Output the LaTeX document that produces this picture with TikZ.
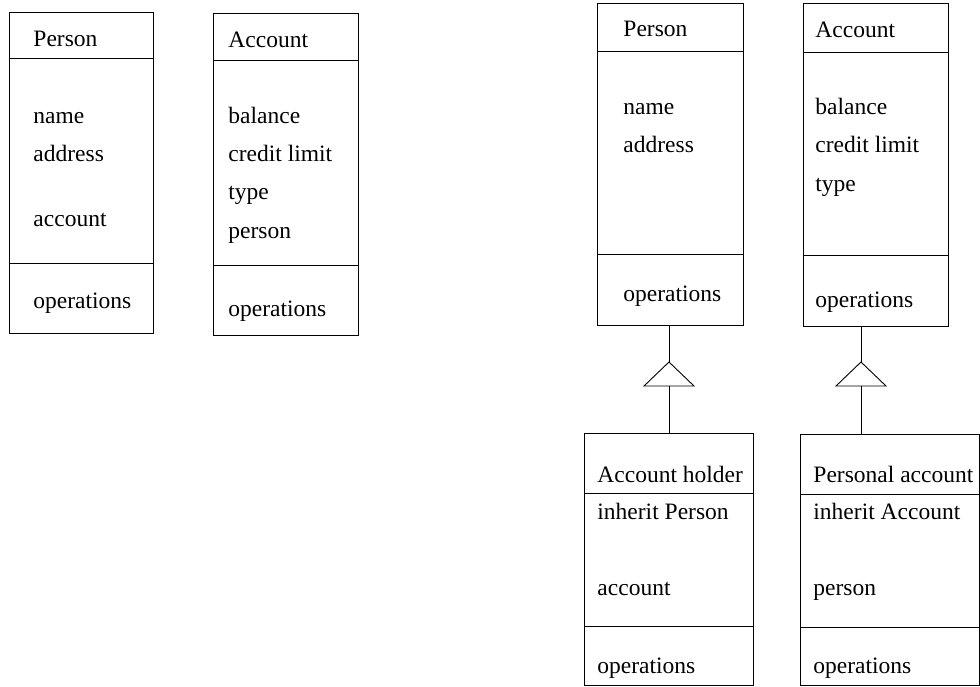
\documentclass[tikz,border=0pt]{standalone}
\usepackage{fontspec}
\setmainfont{Liberation Serif}
\begin{document}
\begin{tikzpicture}[x=1pt,y=-1pt,
  line width=0.9pt,
  classbox/.style={draw, rectangle, inner sep=0pt, anchor=north west},
  label/.style={anchor=base west, inner sep=0pt, font=\fontsize{23.5}{28}\selectfont},
  link/.style={draw, line width=0.9pt}]
\useasboundingbox[fill=white] (0,0) rectangle (980,687);

% ---------- plain classes ----------
\node[classbox, minimum width=144pt, minimum height=321pt] (pa) at (9,12) {};
\draw (9,58) -- (153,58);
\draw (9,263) -- (153,263);
\node[label] (pa-t) at (33,47) {Person};
\node[label] (pa-1) at (33,124) {name};
\node[label] (pa-2) at (33,162) {address};
\node[label] (pa-3) at (33,226) {account};
\node[label] (pa-o) at (33,308) {operations};

\node[classbox, minimum width=145pt, minimum height=322pt] (aa) at (213,13) {};
\draw (213,60) -- (358,60);
\draw (213,265) -- (358,265);
\node[label] (aa-t) at (228,48) {Account};
\node[label] (aa-1) at (228,124) {balance};
\node[label] (aa-2) at (228,162) {credit limit};
\node[label] (aa-3) at (228,200) {type};
\node[label] (aa-4) at (228,239) {person};
\node[label] (aa-o) at (228,316) {operations};

% ---------- base classes ----------
\node[classbox, minimum width=146pt, minimum height=322pt] (pb) at (597,3) {};
\draw (597,51) -- (743,51);
\draw (597,254) -- (743,254);
\node[label] (pb-t) at (623,37) {Person};
\node[label] (pb-1) at (623,115) {name};
\node[label] (pb-2) at (623,153) {address};
\node[label] (pb-o) at (623,301) {operations};

\node[classbox, minimum width=145pt, minimum height=323pt] (ab) at (803,3) {};
\draw (803,52) -- (948,52);
\draw (803,255) -- (948,255);
\node[label] (ab-t) at (815,38) {Account};
\node[label] (ab-1) at (815,115) {balance};
\node[label] (ab-2) at (815,153) {credit limit};
\node[label] (ab-3) at (815,192) {type};
\node[label] (ab-o) at (815,307) {operations};

% ---------- derived classes ----------
\node[classbox, minimum width=169pt, minimum height=252pt] (ah) at (584,433) {};
\draw (584,493) -- (753,493);
\draw (584,626) -- (753,626);
\node[label] (ah-t) at (597,482) {Account holder};
\node[label] (ah-1) at (597,519) {inherit Person};
\node[label] (ah-2) at (597,595) {account};
\node[label] (ah-o) at (597,673) {operations};

\node[classbox, minimum width=179pt, minimum height=251pt] (pc) at (800,434) {};
\draw (800,494) -- (979,494);
\draw (800,627) -- (979,627);
\node[label] (pc-t) at (813,482) {Personal account};
\node[label] (pc-1) at (813,519) {inherit Account};
\node[label] (pc-2) at (813,595) {person};
\node[label] (pc-o) at (813,673) {operations};

% ---------- generalisation links ----------
\coordinate (g1top) at (669,362);
\coordinate (g1base) at (669,386);
\draw (g1top) -- (694,386) -- (644,386) -- cycle;
\draw[link] (pb.south -| g1top) -- (g1top);
\draw[link] (g1base) -- (ah.north -| g1base);

\coordinate (g2top) at (861,362);
\coordinate (g2base) at (861,386);
\draw (g2top) -- (886,386) -- (836,386) -- cycle;
\draw[link] (ab.south -| g2top) -- (g2top);
\draw[link] (g2base) -- (pc.north -| g2base);
\end{tikzpicture}
\end{document}
